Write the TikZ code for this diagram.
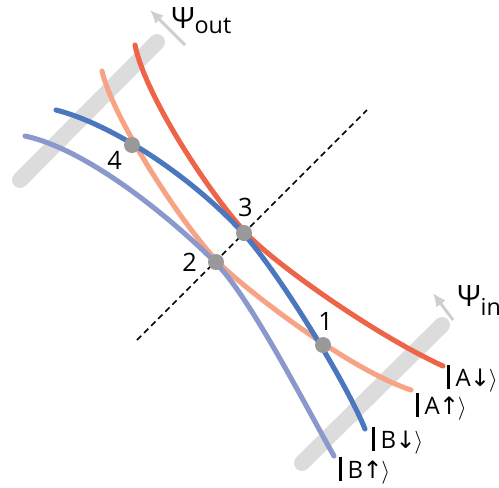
\documentclass[tikz,border=0pt]{standalone}
\usepackage{fontspec}
\setmainfont{Open Sans}
\newfontfamily\arrowfont{DejaVu Sans}
\usetikzlibrary{arrows.meta, positioning}

\definecolor{redA}{HTML}{EE6448}
\definecolor{salmonA}{HTML}{F7A386}
\definecolor{blueB}{HTML}{4A77BD}
\definecolor{lilacB}{HTML}{8A98CC}
\definecolor{barGray}{HTML}{DCDCDC}
\definecolor{dotGray}{HTML}{999999}
\definecolor{arrowGray}{HTML}{CFCFCF}

\newcommand{\statelabel}[2]{\rule[-2.2pt]{1.8pt}{18pt}\hspace{4.5pt}#1\hspace{-0.5pt}{\arrowfont #2}\hspace{-1pt}$\rangle$}
\newcommand{\psilabel}[2]{{\fontsize{22}{24}\selectfont Ψ}\raisebox{-#2}{\fontsize{17.5}{19}\selectfont #1}}

\begin{document}
\begin{tikzpicture}[x=0.75pt, y=-0.75pt, >=Latex,
    bar/.style={line width=12pt, line cap=round, barGray},
    axisarrow/.style={-{Latex[length=10pt, width=9pt]}, line width=2.2pt, arrowGray},
    curve/.style={line width=3.8pt, line cap=round},
    dot/.style={circle, fill=dotGray, inner sep=0pt, minimum size=12pt},
    num/.style={inner sep=0pt, font=\fontsize{19}{21}\selectfont},
    ket/.style={inner sep=0pt, anchor=base west, font=\fontsize{18}{20}\selectfont}]
    \useasboundingbox (0,0) rectangle (499,487);

    % Coordinates
    \coordinate (barOutA) at (20,180);
    \coordinate (barOutB) at (157,42);
    \coordinate (barInA) at (302,463);
    \coordinate (barInB) at (442,325);
    \coordinate (outTail) at (185,45);
    \coordinate (outTip) at (150,10);
    \coordinate (inTail) at (453,320);
    \coordinate (inTip) at (433,293);
    \coordinate (diagA) at (137,340);
    \coordinate (diagB) at (367,110);

    % Bars and axes
    \draw[bar] (barOutA) -- (barOutB);
    \draw[bar] (barInA) -- (barInB);
    \draw[axisarrow] (outTail) -- (outTip);
    \draw[axisarrow] (inTail) -- (inTip);
    \node[anchor=base west, inner sep=0pt] (psiOut) at (171,28) {\psilabel{out}{3.8pt}};
    \node[anchor=base west, inner sep=0pt] (psiIn) at (457,306) {\psilabel{in}{7pt}};

    % Dashed diagonal
    \draw[dashed, dash pattern=on 4.5pt off 3pt, line width=1.1pt] (diagA) -- (diagB);

    % Curves
    \draw[curve, redA] (135,45) .. controls (145,95) and (207,190) .. (245,232)
        .. controls (272,262) and (375,335) .. (443,366);
    \draw[curve, salmonA] (102,71) .. controls (112,115) and (175,215) .. (216,260)
        .. controls (236,282) and (345,368) .. (411,390);
    \draw[curve, lilacB] (25,136) .. controls (90,150) and (175,222) .. (215,262)
        .. controls (250,297) and (305,405) .. (334,456);
    \draw[curve, blueB] (56,110) .. controls (115,125) and (195,180) .. (243,233)
        .. controls (278,272) and (345,380) .. (365,429);

    % Crossing points
    \node[dot] (p1) at (323,345) {};
    \node[dot] (p2) at (216,262) {};
    \node[dot] (p3) at (244,233) {};
    \node[dot] (p4) at (132,145) {};
    \node[num, above=4.5pt of p1, xshift=2pt] (n1) {1};
    \node[num, left=8pt of p2] (n2) {2};
    \node[num, above=6pt of p3, xshift=1pt] (n3) {3};
    \node[num, below left=0pt and 3pt of p4] (n4) {4};

    % State labels
    \node[ket] (ketAdown) at (447,386) {\statelabel{A}{↓}};
    \node[ket] (ketAup) at (416,414) {\statelabel{A}{↑}};
    \node[ket] (ketBdown) at (372,448) {\statelabel{B}{↓}};
    \node[ket] (ketBup) at (339,478) {\statelabel{B}{↑}};
\end{tikzpicture}
\end{document}
